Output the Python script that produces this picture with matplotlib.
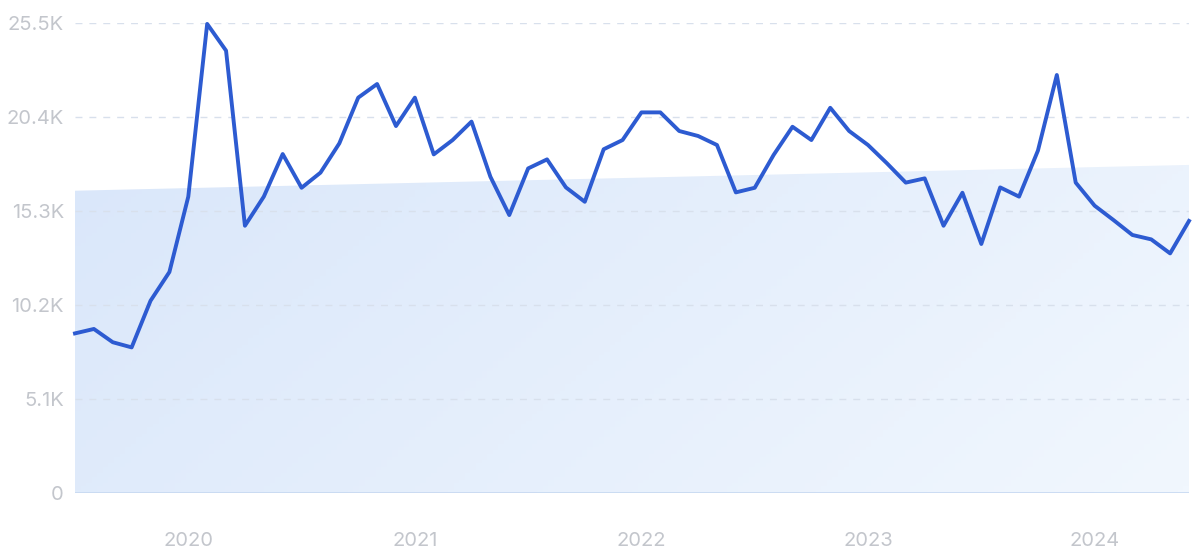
import numpy as np
import matplotlib.pyplot as plt
from matplotlib.colors import LinearSegmentedColormap
from matplotlib.ticker import FuncFormatter

# monthly values, Jul 2019 - Jun 2024 (thousands)
months = np.arange(60)
values = [
    8.66, 8.90, 8.18, 7.90, 10.43, 11.99,
    16.08, 25.45, 24.00, 14.50, 16.08, 18.39, 16.56, 17.38, 18.97, 21.45, 22.19, 19.91,
    21.45, 18.37, 19.15, 20.15, 17.16, 15.08, 17.61, 18.10, 16.58, 15.80, 18.65, 19.15,
    20.65, 20.65, 19.64, 19.37, 18.88, 16.31, 16.56, 18.34, 19.87, 19.15, 20.90, 19.64,
    18.88, 17.89, 16.84, 17.07, 14.50, 16.29, 13.51, 16.58, 16.08, 18.58, 22.68, 16.84,
    15.59, 14.81, 14.00, 13.76, 13.00, 14.76,
]
trend_ends = [16.4, 17.8]
year_labels = ["2020", "2021", "2022", "2023", "2024"]
year_pos = [6, 18, 30, 42, 54]
y_ticks = [0, 5.1, 10.2, 15.3, 20.4, 25.5]

fig = plt.figure(figsize=(12, 5.59), dpi=100)
ax = fig.add_axes([75/1200, 1-493/559, 1114/1200, 470/559])

x0, x1 = months[0], months[-1]
# trend band with a soft gradient (darker top-left, lighter bottom-right)
poly = ax.fill_between([x0, x1], [0, 0], trend_ends, color="none", lw=0)
cmap = LinearSegmentedColormap.from_list("band", ["#dae7fa", "#f1f7fe"])
gx, gy = np.meshgrid(np.linspace(0, 1, 200), np.linspace(0, 1, 100))
grad = 0.75 * gx + 0.25 * gy
im = ax.imshow(grad, cmap=cmap, extent=[x0, x1, 0, max(trend_ends)],
               origin="upper", aspect="auto", zorder=0)
im.set_clip_path(poly.get_paths()[0], transform=ax.transData)

ax.plot(months, values, color="#2d5bd1", lw=2.8, zorder=3, clip_on=False)

ax.set_xlim(x0, x1)
ax.set_ylim(0, 25.5)
ax.set_yticks(y_ticks)
ax.yaxis.set_major_formatter(FuncFormatter(lambda v, p: "0" if v == 0 else f"{v:.1f}K"))
ax.set_xticks(year_pos)
ax.set_xticklabels(year_labels)
for v in y_ticks[1:]:
    ax.axhline(v, color="#d8e0ec", lw=1, ls=(0, (5, 5)), zorder=1)
ax.axhline(0, color="#c6d8f1", lw=1.2, zorder=2)

for s in ax.spines.values():
    s.set_visible(False)
ax.tick_params(length=0, colors="#c3c6cc", labelsize=14.5)
ax.tick_params(axis="y", pad=8)
ax.tick_params(axis="x", pad=28)
for lab in ax.get_xticklabels() + ax.get_yticklabels():
    lab.set_fontfamily("Inter")

fig.savefig("out.png", dpi=100)
